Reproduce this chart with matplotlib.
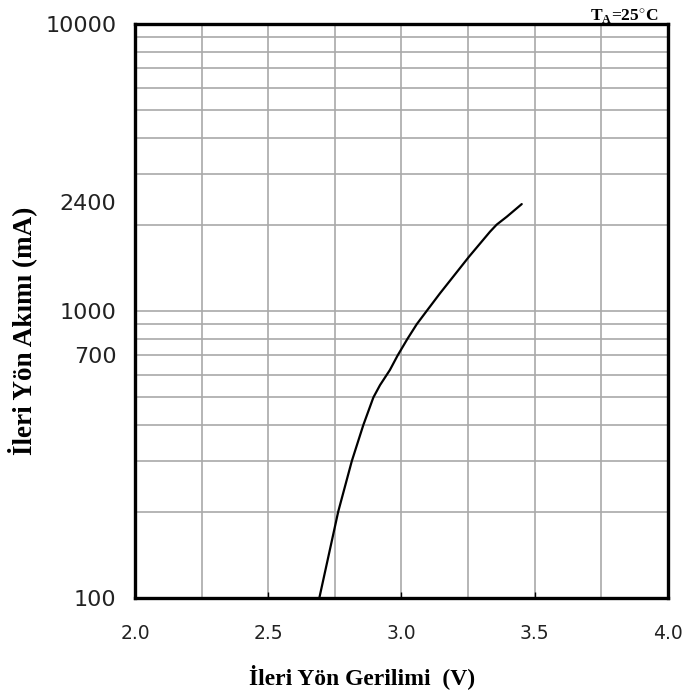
# ==== IMPORTS ====
import numpy as np
import matplotlib
matplotlib.use("Agg")
import matplotlib.pyplot as plt
from matplotlib.ticker import FixedLocator, LogLocator, MultipleLocator, NullFormatter

# ==== DATA ====
voltage_v = [2.692, 2.763, 2.814, 2.857, 2.895, 2.920, 2.957, 2.986, 3.023,
             3.058, 3.095, 3.145, 3.254, 3.333, 3.358, 3.396, 3.452]
current_ma = [100, 200, 300, 400, 500, 552, 623, 700, 800,
              900, 1000, 1152, 1546, 1890, 2000, 2131, 2358]

x_ticks = [2.0, 2.5, 3.0, 3.5, 4.0]
y_ticks = [100, 700, 1000, 2400, 10000]
y_tick_labels = ["100", "700", "1000", "2400", "10000"]

# ==== STYLE ====
SERIF = ["Liberation Serif", "DejaVu Serif"]
plt.rcParams["mathtext.fontset"] = "custom"
plt.rcParams["mathtext.rm"] = "Liberation Serif:bold"
plt.rcParams["mathtext.bf"] = "Liberation Serif:bold"

fig = plt.figure(figsize=(6.82, 6.93), dpi=100)
ax = fig.add_axes([135 / 682, 1 - 598 / 693, 532.7 / 682, 574 / 693])

ax.plot(voltage_v, current_ma, color="black", lw=1.6,
        solid_capstyle="round", solid_joinstyle="round", zorder=3)

# axes
ax.set_yscale("log")
ax.set_xlim(2.0, 4.0)
ax.set_ylim(100, 10000)

ax.xaxis.set_major_locator(FixedLocator(x_ticks))
ax.xaxis.set_minor_locator(MultipleLocator(0.25))
ax.set_xticklabels([f"{v:.1f}" for v in x_ticks])

ax.yaxis.set_major_locator(FixedLocator(y_ticks))
ax.set_yticklabels(y_tick_labels)
ax.yaxis.set_minor_locator(LogLocator(base=10, subs=np.arange(1, 10), numticks=30))
ax.yaxis.set_minor_formatter(NullFormatter())
ax.yaxis.remove_overlapping_locs = False  # keep 700 / 1000 grid lines

ax.grid(True, axis="x", which="both", color="#a9a9a9", lw=1.2, zorder=1)
ax.grid(True, axis="y", which="minor", color="#a9a9a9", lw=1.2, zorder=1)
ax.grid(False, axis="y", which="major")

ax.tick_params(axis="x", which="major", direction="in", length=4, width=1,
               pad=19, labelsize=13.5, labelcolor="#222222")
ax.tick_params(axis="x", which="minor", length=0)
ax.tick_params(axis="y", which="both", length=0, pad=13.5,
               labelsize=16, labelcolor="#222222")

for sp in ax.spines.values():
    sp.set_linewidth(2.4)
    sp.set_color("black")
    sp.set_zorder(4)

# labels
fig.text(362 / 682, 1 - 684 / 693, "İleri Yön Gerilimi  (V)", family=SERIF,
         fontweight="bold", fontsize=17, ha="center", va="baseline")
fig.text(22 / 682, 1 - 331 / 693, "İleri Yön Akımı (mA)", family=SERIF,
         fontweight="bold", fontsize=19.5, rotation=90, ha="center", va="center")
fig.text(658 / 682, 1 - 21 / 693, r"T$_{\mathbf{A}}$=25$^{\circ}$C", family=SERIF,
         fontweight="bold", fontsize=12.5, ha="right", va="baseline")

fig.savefig("out.png", dpi=100)
